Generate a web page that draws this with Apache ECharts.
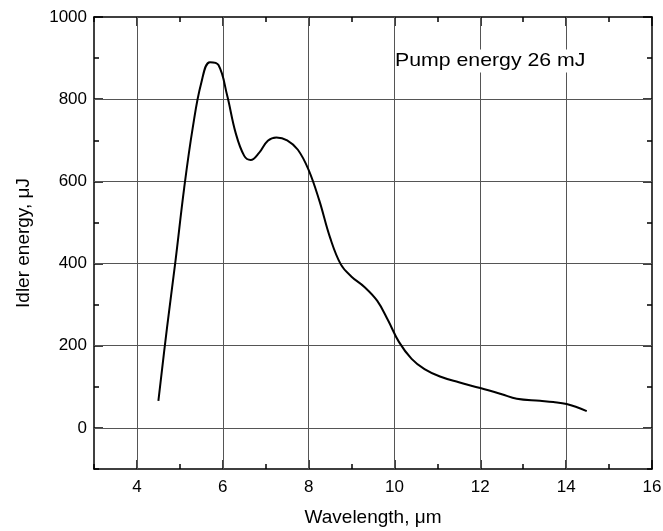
<!DOCTYPE html>
<html>
<head>
<meta charset="utf-8">
<script src="https://cdn.jsdelivr.net/npm/echarts@6/dist/echarts.min.js"></script>
<style>
  html, body { margin: 0; padding: 0; background: #fff; }
  #chart { width: 663px; height: 531px; }
</style>
</head>
<body>
<div id="chart"></div>
<script>
// 曲线数据
var wavelength = [4.5, 4.7, 4.9, 5.1, 5.3, 5.5, 5.7, 5.9, 6.1, 6.3, 6.5, 6.65, 6.85, 7.05, 7.25, 7.5, 7.75, 8.0, 8.25, 8.5, 8.75, 9.0, 9.3, 9.6, 9.85, 10.1, 10.4, 10.7, 11.06, 11.5, 12.0, 12.5, 12.85, 13.39, 13.7, 14.01, 14.48];
var energy = [66, 243, 408, 583, 730, 840, 890, 883, 810, 718, 662, 652, 670, 699, 707, 700, 677, 628, 553, 463, 398, 368, 343, 309, 262, 210, 168, 143, 125, 111, 97, 82, 71, 66, 63, 58, 41];

// 刻度
var xTicks = [4, 6, 8, 10, 12, 14, 16];
var yTicks = [0, 200, 400, 600, 800, 1000];
// 网格线
var gridX = [4, 6, 8, 10, 12, 14];
var gridY = [0, 200, 400, 600, 800];

var fontName = '"Liberation Sans", Arial, sans-serif';

var points = [];
for (var i = 0; i < wavelength.length; i++) {
    points.push([wavelength[i], energy[i]]);
}

var gridLines = [];
for (var i = 0; i < gridX.length; i++) gridLines.push({ xAxis: gridX[i] });
for (var i = 0; i < gridY.length; i++) gridLines.push({ yAxis: gridY[i] });

var axisLineStyle = { show: true, onZero: false, lineStyle: { color: '#000', width: 1.5 } };
var noLine = { show: false, onZero: false };

// 不要千位分隔符
function plain(v) { return String(v); }

function mainX(pos, labels) {
    return {
        type: 'value', position: pos, min: 3, max: 16,
        axisLine: axisLineStyle,
        axisTick: { show: true, inside: true, length: 9, customValues: xTicks, lineStyle: { color: '#000', width: 1.5 } },
        axisLabel: { show: labels, customValues: xTicks, formatter: plain, color: '#000', fontSize: 17, fontFamily: fontName, margin: 10 },
        splitLine: { show: false }
    };
}
function minorX(pos) {
    return {
        type: 'value', position: pos, min: 3, max: 16, interval: 1,
        axisLine: noLine,
        axisTick: { show: true, inside: true, length: 5, lineStyle: { color: '#000', width: 1.5 } },
        axisLabel: { show: false },
        splitLine: { show: false }
    };
}
function mainY(pos, labels) {
    return {
        type: 'value', position: pos, min: -100, max: 1000,
        axisLine: axisLineStyle,
        axisTick: { show: true, inside: true, length: 9, customValues: yTicks, lineStyle: { color: '#000', width: 1.5 } },
        axisLabel: { show: labels, customValues: yTicks, formatter: plain, color: '#000', fontSize: 17, fontFamily: fontName, margin: 7 },
        splitLine: { show: false }
    };
}
function minorY(pos) {
    return {
        type: 'value', position: pos, min: -100, max: 1000, interval: 100,
        axisLine: noLine,
        axisTick: { show: true, inside: true, length: 5, lineStyle: { color: '#000', width: 1.5 } },
        axisLabel: { show: false },
        splitLine: { show: false }
    };
}

var xBottom = mainX('bottom', true);
xBottom.name = 'Wavelength, μm';
xBottom.nameLocation = 'middle';
xBottom.nameGap = 39;
xBottom.nameTextStyle = { color: '#000', fontSize: 19, fontFamily: fontName };

var yLeft = mainY('left', true);
yLeft.name = 'Idler energy, μJ';
yLeft.nameLocation = 'middle';
yLeft.nameGap = 61;
yLeft.nameTextStyle = { color: '#000', fontSize: 19, fontFamily: fontName };

var myChart = echarts.init(document.getElementById('chart'), null, { renderer: 'canvas' });

var option = {
    animation: false,
    backgroundColor: '#fff',
    grid: { left: 94, right: 11, top: 17, bottom: 62, outerBoundsMode: 'none' },
    xAxis: [xBottom, minorX('bottom'), mainX('top', false), minorX('top')],
    yAxis: [yLeft, minorY('left'), mainY('right', false), minorY('right')],
    graphic: [{
        type: 'text',
        x: 395, y: 61,
        scaleX: 1.12,
        z: 100,
        style: {
            text: 'Pump energy 26 mJ',
            font: '19px ' + fontName,
            fill: '#000',
            verticalAlign: 'middle',
            align: 'left',
            backgroundColor: '#fff',
            padding: [2, 0, 2, 0]
        }
    }],
    series: [{
        type: 'line',
        xAxisIndex: 0,
        yAxisIndex: 0,
        data: points,
        smooth: 0.4,
        showSymbol: false,
        lineStyle: { color: '#000', width: 2 },
        z: 5,
        markLine: {
            silent: true,
            symbol: ['none', 'none'],
            label: { show: false },
            lineStyle: { color: '#555', width: 1, type: 'solid' },
            emphasis: { disabled: true },
            data: gridLines,
            z: 1
        }
    }]
};

myChart.setOption(option);
</script>
</body>
</html>
